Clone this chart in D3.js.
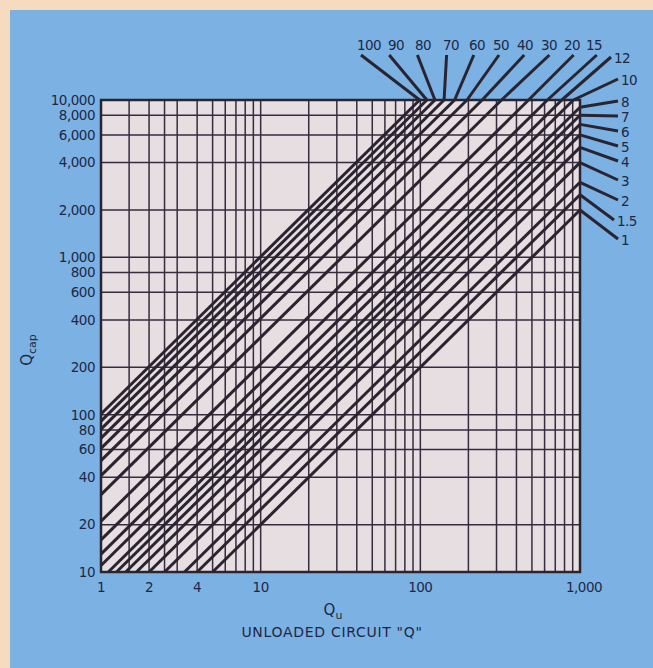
<!DOCTYPE html>
<html>
<head>
<meta charset="utf-8">
<script src="https://cdn.jsdelivr.net/npm/d3@7"></script>
<style>
  html, body { margin: 0; padding: 0; background: #7bb2e3; }
  svg { display: block; }
  text { font-family: "DejaVu Sans", Lato, sans-serif; fill: #1e2746; }
</style>
</head>
<body>
<div id="chart"></div>
<script>
var lineLabels = ["1", "1.5", "2", "3", "4", "5", "6", "7", "8", "10", "12",
                  "15", "20", "30", "40", "50", "60", "70", "80", "90", "100"];
var lineRatios = [2, 2.5, 3, 4, 5, 6, 7, 8, 9, 11, 13,
                  16, 21, 31, 41, 51, 61, 71, 81, 91, 101];

// grid and tick values
var xGrid = [1, 1.5, 2, 2.5, 3, 4, 5, 6, 7, 8, 9, 10, 20, 30, 40, 50, 60, 70, 80, 90,
             100, 200, 300, 400, 500, 600, 700, 800, 900, 1000];
var yGrid = [10, 20, 40, 60, 80, 100, 200, 400, 600, 800, 1000, 2000, 4000, 6000, 8000, 10000];
var xTickValues = [1, 2, 4, 10, 100, 1000];
var xTickText = ["1", "2", "4", "10", "100", "1,000"];
var yTickValues = [10, 20, 40, 60, 80, 100, 200, 400, 600, 800, 1000, 2000, 4000, 6000, 8000, 10000];
var yTickText = ["10", "20", "40", "60", "80", "100", "200", "400", "600", "800",
                 "1,000", "2,000", "4,000", "6,000", "8,000", "10,000"];

// label layout (where the callout text sits)
var topLabels = ["100", "90", "80", "70", "60", "50", "40", "30", "20", "15"];
var topLabelX = [369, 396, 423, 451, 477, 501, 525, 549, 572, 594];
var sideLabels = ["12", "10", "8", "7", "6", "5", "4", "3", "2", "1.5", "1"];
var sideLabelY = [58, 80, 102, 117, 132, 147, 162, 181, 201, 221, 240];

var W = 653, H = 668;
var plot = {left: 101, right: 580, top: 100, bottom: 572};

var svg = d3.select("#chart")
  .append("svg")
    .attr("width", W)
    .attr("height", H);

// background: blue card with peach strip on top and left
svg.append("rect").attr("width", W).attr("height", H).attr("fill", "#7bb2e3");
svg.append("rect").attr("width", W).attr("height", 10).attr("fill", "#f7dbbf");
svg.append("rect").attr("width", 10).attr("height", H).attr("fill", "#f7dbbf");

var x = d3.scaleLog().domain([1, 1000]).range([plot.left, plot.right]);
var y = d3.scaleLog().domain([10, 10000]).range([plot.bottom, plot.top]);

svg.append("rect")
  .attr("x", plot.left).attr("y", plot.top)
  .attr("width", plot.right - plot.left)
  .attr("height", plot.bottom - plot.top)
  .attr("fill", "#e6dee0");

//grid
svg.append("g").selectAll("line")
  .data(xGrid).enter().append("line")
    .attr("x1", function(d){ return x(d); }).attr("x2", function(d){ return x(d); })
    .attr("y1", plot.top).attr("y2", plot.bottom)
    .attr("stroke", "#352d3e").attr("stroke-width", 1.5);

svg.append("g").selectAll("line")
  .data(yGrid).enter().append("line")
    .attr("y1", function(d){ return y(d); }).attr("y2", function(d){ return y(d); })
    .attr("x1", plot.left).attr("x2", plot.right)
    .attr("stroke", "#352d3e").attr("stroke-width", 1.5);

// the ratio lines, each from where it enters the plot to where it leaves
var lines = lineRatios.map(function(r, i){
  var q0 = Math.max(1, 10 / r), q1 = Math.min(1000, 10000 / r);
  return {label: lineLabels[i], p0: [q0, r * q0], p1: [q1, r * q1]};
});

svg.append("g").selectAll("line")
  .data(lines).enter().append("line")
    .attr("x1", function(d){ return x(d.p0[0]); })
    .attr("y1", function(d){ return y(d.p0[1]); })
    .attr("x2", function(d){ return x(d.p1[0]); })
    .attr("y2", function(d){ return y(d.p1[1]); })
    .attr("stroke", "#2a2430").attr("stroke-width", 3);

// plot frame
svg.append("rect")
  .attr("x", plot.left).attr("y", plot.top)
  .attr("width", plot.right - plot.left)
  .attr("height", plot.bottom - plot.top)
  .attr("fill", "none").attr("stroke", "#2a2430").attr("stroke-width", 2.5);

function lineEnd(label){
  var d = lines.filter(function(l){ return l.label === label; })[0];
  return [x(d.p1[0]), y(d.p1[1])];
}

// callouts on top
var topG = svg.append("g");
topLabels.forEach(function(lab, i){
  var e = lineEnd(lab);
  topG.append("line")
    .attr("x1", topLabelX[i] - 8 + i * 1.2).attr("y1", 55)
    .attr("x2", e[0]).attr("y2", e[1])
    .attr("stroke", "#2a2430").attr("stroke-width", 3);
  topG.append("text")
    .attr("x", topLabelX[i]).attr("y", 50)
    .attr("text-anchor", "middle")
    .style("font-size", "13.5px").style("letter-spacing", "-0.6px")
    .text(lab);
});

// callouts on the right
var sideG = svg.append("g");
sideLabels.forEach(function(lab, i){
  var e = lineEnd(lab);
  var lx = lab === "12" ? 614 : (lab === "1.5" ? 617 : 621);
  sideG.append("line")
    .attr("x1", lx - 3).attr("y1", sideLabelY[i] - 1)
    .attr("x2", e[0]).attr("y2", e[1])
    .attr("stroke", "#2a2430").attr("stroke-width", 3);
  sideG.append("text")
    .attr("x", lx).attr("y", sideLabelY[i])
    .attr("dy", "0.36em")
    .style("font-size", "13.5px").style("letter-spacing", "-0.6px")
    .text(lab);
});

// tick labels
svg.append("g").selectAll("text")
  .data(yTickValues).enter().append("text")
    .attr("x", 95)
    .attr("y", function(d){ return y(d); })
    .attr("dy", "0.36em")
    .attr("text-anchor", "end")
    .style("font-size", "13.5px").style("letter-spacing", "-0.5px")
    .text(function(d, i){ return yTickText[i]; });

svg.append("g").selectAll("text")
  .data(xTickValues).enter().append("text")
    .attr("x", function(d){ return x(d) + (d === 1000 ? 4 : 0); })
    .attr("y", 592)
    .attr("text-anchor", "middle")
    .style("font-size", "13.5px").style("letter-spacing", "-0.5px")
    .text(function(d, i){ return xTickText[i]; });

// axis titles
var xt = svg.append("text")
  .attr("x", 333).attr("y", 615)
  .attr("text-anchor", "middle")
  .style("font-size", "15px");
xt.append("tspan").text("Q");
xt.append("tspan").attr("dy", 4).style("font-size", "11px").text("u");

svg.append("text")
  .attr("x", 332).attr("y", 637)
  .attr("text-anchor", "middle")
  .style("font-size", "14px").style("letter-spacing", "0.7px")
  .text("UNLOADED CIRCUIT \"Q\"");

var yt = svg.append("text")
  .attr("transform", "translate(32,350)rotate(-90)")
  .attr("text-anchor", "middle")
  .style("font-size", "15px");
yt.append("tspan").text("Q");
yt.append("tspan").attr("dy", 4).style("font-size", "11px").text("cap");
</script>
</body>
</html>
